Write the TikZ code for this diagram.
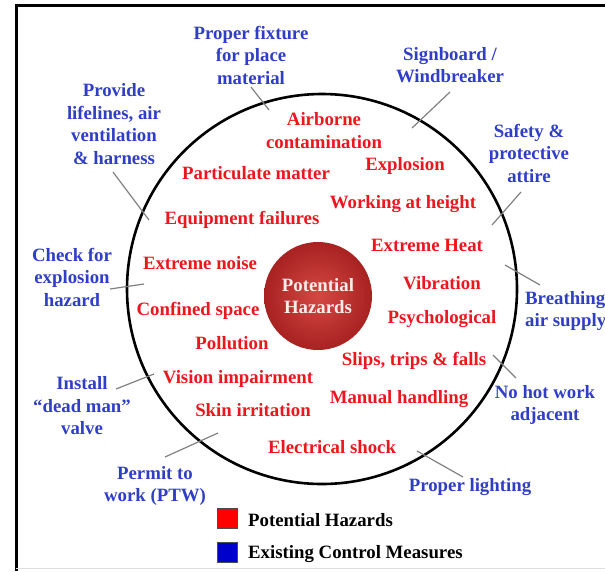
\documentclass[tikz,border=0pt]{standalone}
\usepackage{fontspec}
\setmainfont{Liberation Serif}
\definecolor{hazardred}{RGB}{236,22,30}
\definecolor{controlblue}{RGB}{48,62,198}
\definecolor{balllight}{RGB}{212,72,66}
\definecolor{balldark}{RGB}{168,34,34}
\tikzset{
	hazard/.style={text=hazardred, anchor=base, inner sep=0pt},
	control/.style={text=controlblue, align=center, inner sep=0pt},
	pointer/.style={draw=gray, line width=1.2pt},
	keybox/.style={draw=black!70, line width=0.6pt, minimum size=20pt, inner sep=0pt}
}
\begin{document}
\begin{tikzpicture}[x=1pt, y=-1pt, font=\fontsize{18.8}{22.5}\selectfont\bfseries]

		\useasboundingbox (0,0) rectangle (605,571);

		% frame
		\draw[line width=3pt] (16,571) -- (16,5) -- (605,5);
		\draw[gray!25, line width=0.8pt] (16,568) -- (605,568);

		% big circle and centre ball
		\draw[line width=2.6pt] (322,289) circle (195);
		\node[circle, minimum size=108pt, inner sep=0pt, inner color=balllight, outer color=balldark,
			text=white!92!red, align=center] (core) at (318,296) {Potential\\Hazards};

		% potential hazards
		\node[hazard, align=center] (airborne) at (324,148) {Airborne\\contamination};
		\node[hazard] (particulate) at (256,179) {Particulate matter};
		\node[hazard] (explosion) at (405,170) {Explosion};
		\node[hazard] (height) at (403,208) {Working at height};
		\node[hazard] (equipment) at (242,224) {Equipment failures};
		\node[hazard] (heat) at (427,251) {Extreme Heat};
		\node[hazard] (noise) at (200,269) {Extreme noise};
		\node[hazard] (vibration) at (442,289) {Vibration};
		\node[hazard] (confined) at (198,315) {Confined space};
		\node[hazard] (psycho) at (442,323) {Psychological};
		\node[hazard] (pollution) at (232,349) {Pollution};
		\node[hazard] (slips) at (414,365) {Slips, trips \& falls};
		\node[hazard] (vision) at (238,383) {Vision impairment};
		\node[hazard] (manual) at (399,403) {Manual handling};
		\node[hazard] (skin) at (253,416) {Skin irritation};
		\node[hazard] (electrical) at (332,453) {Electrical shock};

		% existing control measures
		\node[control] (fixture) at (251,55) {Proper fixture\\for place\\material};
		\node[control] (signboard) at (450,65) {Signboard /\\Windbreaker};
		\node[control] (lifelines) at (114,124) {Provide\\lifelines, air\\ventilation\\\& harness};
		\node[control] (attire) at (529,153) {Safety \&\\protective\\attire};
		\node[control] (checkexp) at (72,277) {Check for\\explosion\\hazard};
		\node[control, align=left, anchor=west] (breathing) at (525,311) {Breathing\\air supply};
		\node[control] (deadman) at (82,406) {Install\\“dead man”\\valve};
		\node[control] (nohot) at (545,405) {No hot work\\adjacent};
		\node[control] (permit) at (155,486) {Permit to\\work (PTW)};
		\node[control] (lighting) at (470,487) {Proper lighting};

		% pointers across the circle
		\coordinate (fixture-a) at (251,87);     \coordinate (fixture-b) at (269,110);
		\coordinate (signboard-a) at (450,92);   \coordinate (signboard-b) at (412,128);
		\coordinate (lifelines-a) at (113,172);  \coordinate (lifelines-b) at (149,220);
		\coordinate (attire-a) at (521,192);     \coordinate (attire-b) at (492,225);
		\coordinate (checkexp-a) at (110,289);   \coordinate (checkexp-b) at (144,284);
		\coordinate (breathing-a) at (540,285);  \coordinate (breathing-b) at (505,265);
		\coordinate (deadman-a) at (116,389);    \coordinate (deadman-b) at (154,374);
		\coordinate (nohot-a) at (516,378);      \coordinate (nohot-b) at (493,355);
		\coordinate (permit-a) at (165,457);     \coordinate (permit-b) at (218,433);
		\coordinate (lighting-a) at (463,477);   \coordinate (lighting-b) at (417,451);

		\draw[pointer] (fixture-a) -- (fixture-b);
		\draw[pointer] (signboard-a) -- (signboard-b);
		\draw[pointer] (lifelines-a) -- (lifelines-b);
		\draw[pointer] (attire-a) -- (attire-b);
		\draw[pointer] (checkexp-a) -- (checkexp-b);
		\draw[pointer] (breathing-a) -- (breathing-b);
		\draw[pointer] (deadman-a) -- (deadman-b);
		\draw[pointer] (nohot-a) -- (nohot-b);
		\draw[pointer] (permit-a) -- (permit-b);
		\draw[pointer] (lighting-a) -- (lighting-b);

		% legend
		\node[keybox, fill=red] (keyred) at (227,518) {};
		\node[keybox, fill=blue!80!black] (keyblue) at (227,552) {};
		\node[anchor=west, inner sep=0pt] (keyredtext) at (248,520) {Potential Hazards};
		\node[anchor=west, inner sep=0pt] (keybluetext) at (248,554) {Existing Control Measures};
	\end{tikzpicture}
\end{document}
